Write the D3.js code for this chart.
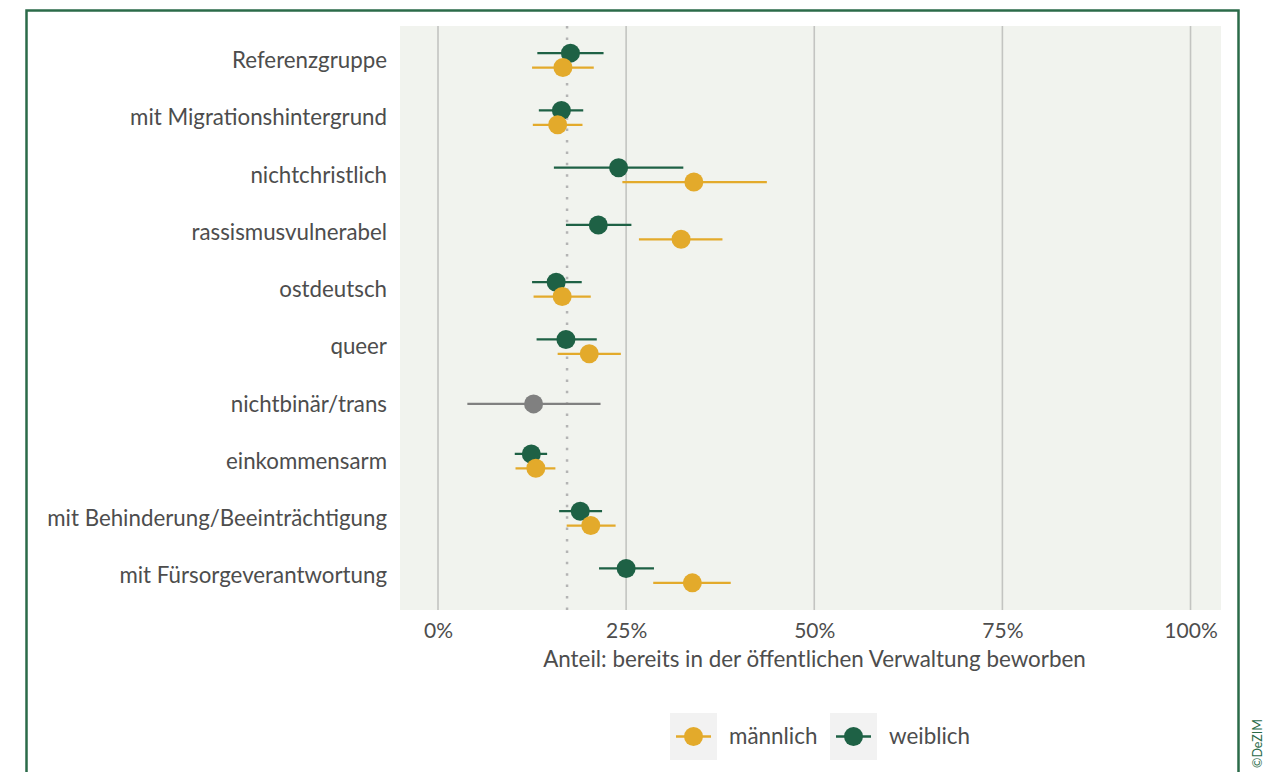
<!DOCTYPE html>
<html lang="de">
<head>
<meta charset="utf-8">
<script src="https://cdn.jsdelivr.net/npm/d3@7"></script>
<style>
  html, body { margin: 0; padding: 0; background: #ffffff; }
  svg { display: block; }
  text { font-family: Lato, "Open Sans", sans-serif; fill: #4d4d4d; }
</style>
</head>
<body>
<svg id="chart" width="1274" height="772"></svg>
<script>
// Gruppen (von oben nach unten)
const categories = [
  "Referenzgruppe",
  "mit Migrationshintergrund",
  "nichtchristlich",
  "rassismusvulnerabel",
  "ostdeutsch",
  "queer",
  "nichtbinär/trans",
  "einkommensarm",
  "mit Behinderung/Beeinträchtigung",
  "mit Fürsorgeverantwortung"
];

// Anteile (0–1) mit Konfidenzintervallen; null = keine Angabe
const maleEst   = [0.166, 0.159, 0.340, 0.323, 0.165, 0.201, null, 0.130, 0.203, 0.338];
const maleLo    = [0.125, 0.126, 0.245, 0.267, 0.127, 0.159, null, 0.103, 0.171, 0.286];
const maleHi    = [0.207, 0.192, 0.437, 0.378, 0.203, 0.243, null, 0.156, 0.236, 0.389];

const femaleEst = [0.176, 0.164, 0.240, 0.213, 0.157, 0.170, null, 0.124, 0.189, 0.250];
const femaleLo  = [0.132, 0.134, 0.154, 0.170, 0.125, 0.131, null, 0.102, 0.161, 0.214];
const femaleHi  = [0.220, 0.193, 0.326, 0.257, 0.191, 0.211, null, 0.145, 0.218, 0.287];

const diverseEst = [null, null, null, null, null, null, 0.127, null, null, null];
const diverseLo  = [null, null, null, null, null, null, 0.039, null, null, null];
const diverseHi  = [null, null, null, null, null, null, 0.216, null, null, null];

// Vergleichswert (gepunktete Linie)
const referenceLine = 0.1715;

const xTicks = [0, 0.25, 0.5, 0.75, 1];
const xTitle = "Anteil: bereits in der öffentlichen Verwaltung beworben";
const legendLabels = ["männlich", "weiblich"];
const credit = "©DeZIM";

const colMale = "#e3aa2b";
const colFemale = "#1e6145";
const colDiverse = "#808080";

const svg = d3.select("#chart");

// Rahmen
svg.append("rect")
  .attr("x", 26.5).attr("y", 10.5)
  .attr("width", 1212).attr("height", 800)
  .attr("fill", "none")
  .attr("stroke", "#2b6b49")
  .attr("stroke-width", 2.5);

const panel = { left: 400, right: 1221, top: 26, bottom: 610 };

const x = d3.scaleLinear()
  .domain([-0.0505, 1.0405])
  .range([panel.left, panel.right]);

const y = d3.scalePoint()
  .domain(categories)
  .range([panel.top, panel.bottom])
  .padding(0.6);

// Panel-Hintergrund
svg.append("rect")
  .attr("x", panel.left).attr("y", panel.top)
  .attr("width", panel.right - panel.left)
  .attr("height", panel.bottom - panel.top)
  .attr("fill", "#f1f3ee");

// vertikale Gitterlinien
svg.append("g")
  .selectAll("line")
  .data(xTicks)
  .join("line")
  .attr("x1", d => x(d)).attr("x2", d => x(d))
  .attr("y1", panel.top).attr("y2", panel.bottom)
  .attr("stroke", "#c3c4c1")
  .attr("stroke-width", 1.6);

// gepunktete Vergleichslinie
svg.append("line")
  .attr("x1", x(referenceLine)).attr("x2", x(referenceLine))
  .attr("y1", panel.top).attr("y2", panel.bottom)
  .attr("stroke", "#b4b4b4")
  .attr("stroke-width", 2.5)
  .attr("stroke-dasharray", "2.5 8.9");

// x-Achse
const xAxis = d3.axisBottom(x)
  .tickValues(xTicks)
  .tickFormat(d3.format(".0%"))
  .tickSize(0)
  .tickPadding(13);

const gx = svg.append("g")
  .attr("transform", `translate(0,${panel.bottom})`)
  .call(xAxis);
gx.select(".domain").remove();
gx.selectAll("text")
  .style("font-size", "21px")
  .style("font-family", "Lato, 'Open Sans', sans-serif")
  .attr("fill", "#4d4d4d");

svg.append("text")
  .attr("x", (panel.left + panel.right) / 2 + 4)
  .attr("y", 667)
  .attr("text-anchor", "middle")
  .style("font-size", "22.4px")
  .text(xTitle);

// y-Achse
const yAxis = d3.axisLeft(y).tickSize(0).tickPadding(13);
const gy = svg.append("g")
  .attr("transform", `translate(${panel.left},0)`)
  .call(yAxis);
gy.select(".domain").remove();
gy.selectAll("text")
  .style("font-size", "22.3px")
  .style("font-family", "Lato, 'Open Sans', sans-serif")
  .attr("fill", "#4d4d4d");

// Serien
const dodge = 7.2;
const series = [
  { est: femaleEst, lo: femaleLo, hi: femaleHi, color: colFemale, dy: -dodge },
  { est: maleEst, lo: maleLo, hi: maleHi, color: colMale, dy: dodge },
  { est: diverseEst, lo: diverseLo, hi: diverseHi, color: colDiverse, dy: 0 }
];

// Zeichenreihenfolge: erst weiblich, dann männlich (männlich liegt oben auf)
const marks = svg.append("g");
series.forEach(s => {
  const rows = categories
    .map((c, i) => ({ c, est: s.est[i], lo: s.lo[i], hi: s.hi[i] }))
    .filter(d => d.est != null);
  const g = marks.append("g");
  g.selectAll("line")
    .data(rows)
    .join("line")
    .attr("x1", d => x(d.lo)).attr("x2", d => x(d.hi))
    .attr("y1", d => y(d.c) + s.dy).attr("y2", d => y(d.c) + s.dy)
    .attr("stroke", s.color)
    .attr("stroke-width", 2.3);
  g.selectAll("circle")
    .data(rows)
    .join("circle")
    .attr("cx", d => x(d.est))
    .attr("cy", d => y(d.c) + s.dy)
    .attr("r", 9.5)
    .attr("fill", s.color);
});

// Legende
const legendItems = [
  { label: legendLabels[0], color: colMale, x: 670 },
  { label: legendLabels[1], color: colFemale, x: 830 }
];
const lg = svg.append("g");
legendItems.forEach(item => {
  const g = lg.append("g").attr("transform", `translate(${item.x},713)`);
  g.append("rect")
    .attr("width", 47).attr("height", 47)
    .attr("fill", "#f2f2f2");
  g.append("line")
    .attr("x1", 6).attr("x2", 41)
    .attr("y1", 23.5).attr("y2", 23.5)
    .attr("stroke", item.color)
    .attr("stroke-width", 2.3);
  g.append("circle")
    .attr("cx", 23.5).attr("cy", 23.5).attr("r", 9.5)
    .attr("fill", item.color);
  g.append("text")
    .attr("x", 59).attr("y", 23.5)
    .attr("dy", "0.35em")
    .style("font-size", "22.4px")
    .text(item.label);
});

// Quellenvermerk
svg.append("text")
  .attr("transform", "translate(1262,768) rotate(-90)")
  .style("font-size", "12.5px")
  .style("fill", "#2b6b49")
  .text(credit);
</script>
</body>
</html>
